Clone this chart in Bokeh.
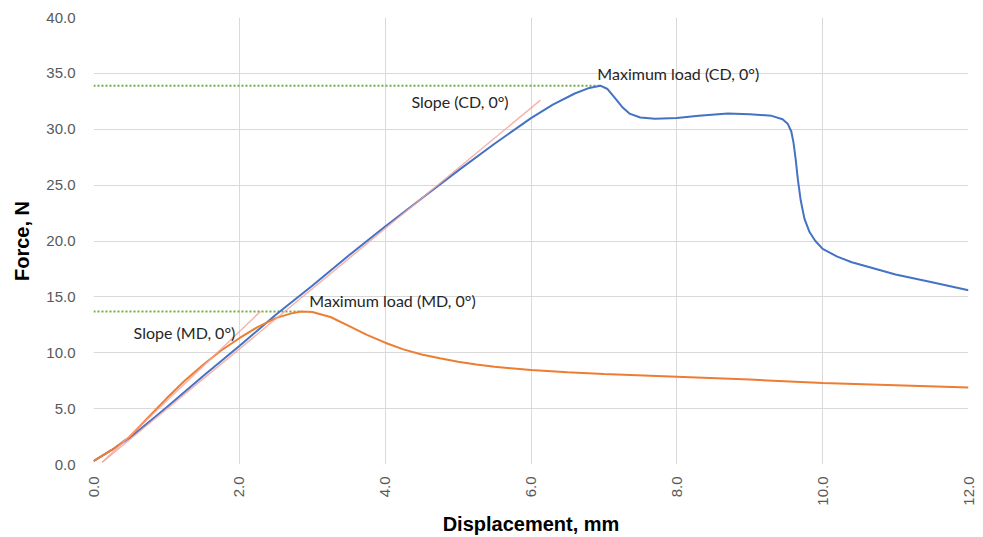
import math
from bokeh.plotting import figure
from bokeh.models import FixedTicker, NumeralTickFormatter, Range1d
from bokeh.core.properties import value
from bokeh.embed import file_html
from bokeh.resources import INLINE

# Data
md_x = [0.0, 0.25, 0.5, 0.75, 1.0, 1.25, 1.5, 1.75, 2.0, 2.25, 2.5, 2.7, 2.85, 3.0, 3.25, 3.5, 3.75,
        4.0, 4.25, 4.5, 4.75, 5.0, 5.25, 5.5, 6.0, 6.5, 7.0, 8.0, 9.0, 10.0, 11.0, 12.0]
md_y = [0.3, 1.3, 2.5, 4.2, 5.9, 7.5, 8.9, 10.2, 11.3, 12.3, 13.1, 13.5, 13.7, 13.65, 13.2, 12.4, 11.6,
        10.9, 10.3, 9.85, 9.5, 9.2, 8.95, 8.75, 8.45, 8.25, 8.1, 7.85, 7.6, 7.3, 7.1, 6.9]

cd_x = [0.0, 0.25, 0.5, 1.0, 1.5, 2.0, 2.5, 3.0, 3.5, 4.0, 4.5, 5.0, 5.5, 6.0, 6.3, 6.6, 6.8, 6.95,
        7.05, 7.15, 7.25, 7.35, 7.5, 7.7, 8.0, 8.3, 8.7, 9.0, 9.3, 9.45, 9.52, 9.57, 9.6, 9.63,
        9.66, 9.7, 9.75, 9.82, 9.9, 10.0, 10.2, 10.4, 11.0, 11.5, 12.0]
cd_y = [0.3, 1.3, 2.4, 5.1, 7.9, 10.6, 13.4, 16.0, 18.7, 21.3, 23.8, 26.3, 28.7, 31.0, 32.2, 33.2,
        33.7, 33.9, 33.6, 32.8, 32.0, 31.4, 31.05, 30.95, 31.0, 31.2, 31.4, 31.35, 31.2, 30.9,
        30.5, 29.8, 28.8, 27.3, 25.5, 23.6, 22.0, 20.8, 20.0, 19.3, 18.6, 18.1, 17.0, 16.3, 15.6]

slope_md_x = [0.12, 2.29]
slope_md_y = [0.2, 13.7]
slope_cd_x = [0.12, 6.13]
slope_cd_y = [0.2, 32.6]

max_md_x = [0.0, 2.85]
max_md_y = [13.7, 13.7]
max_cd_x = [0.0, 6.95]
max_cd_y = [33.9, 33.9]

x_ticks = [0, 2, 4, 6, 8, 10, 12]
y_ticks = [0, 5, 10, 15, 20, 25, 30, 35, 40]

labels = ["Slope (CD, 0°)", "Maximum load (CD, 0°)", "Slope (MD, 0°)", "Maximum load (MD, 0°)"]
label_x = [4.36, 6.91, 0.55, 2.96]
label_y = [32.5, 35.0, 11.8, 14.7]

p = figure(width=983, height=537, output_backend="svg", toolbar_location=None,
           x_range=Range1d(0, 12), y_range=Range1d(0, 40),
           min_border_left=93, min_border_right=15, min_border_top=17, min_border_bottom=72)
p.outline_line_color = None
p.background_fill_color = "white"

for ax in (p.xaxis[0], p.yaxis[0]):
    ax.axis_line_color = None
    ax.major_tick_line_color = None
    ax.minor_tick_line_color = None
    ax.major_label_text_font = "Liberation Sans"
    ax.major_label_text_font_size = "15px"
    ax.major_label_text_color = "#595959"
    ax.axis_label_text_font = "Liberation Sans"
    ax.axis_label_text_font_style = "bold"
    ax.axis_label_text_font_size = "20px"
    ax.axis_label_text_color = "#000000"
    ax.formatter = NumeralTickFormatter(format="0.0")

p.xaxis.ticker = FixedTicker(ticks=x_ticks)
p.yaxis.ticker = FixedTicker(ticks=y_ticks)
p.xaxis.major_label_orientation = math.pi / 2
p.xaxis.axis_label = "Displacement, mm"
p.yaxis.axis_label = "Force, N"
p.xaxis.major_label_standoff = 6
p.yaxis.major_label_standoff = 12
p.xaxis.axis_label_standoff = 4
p.yaxis.axis_label_standoff = 10

p.xgrid.ticker = FixedTicker(ticks=x_ticks)
p.ygrid.ticker = FixedTicker(ticks=y_ticks)
p.xgrid.grid_line_color = "#d9d9d9"
p.ygrid.grid_line_color = "#d9d9d9"

p.line(max_cd_x, max_cd_y, line_color="#70AD47", line_width=2, line_dash="2 2")
p.line(max_md_x, max_md_y, line_color="#70AD47", line_width=2, line_dash="2 2")

p.line(cd_x, cd_y, line_color="#4472C4", line_width=2)
p.line(md_x, md_y, line_color="#ED7D31", line_width=2)

p.line(slope_cd_x, slope_cd_y, line_color="#F4A09A", line_width=1.5, line_alpha=0.8)
p.line(slope_md_x, slope_md_y, line_color="#F4A09A", line_width=1.5, line_alpha=0.8)

p.text(x=label_x, y=label_y, text=labels, text_font=value("Lato"), text_font_size="16px",
       text_color="#262626", text_baseline="middle", text_align="left")

open("out.html", "w").write(file_html(p, INLINE))
